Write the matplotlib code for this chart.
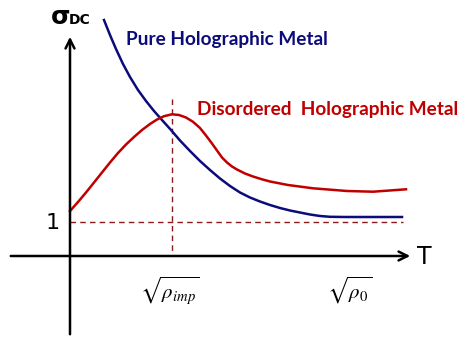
import matplotlib.pyplot as plt

# curve samples (pixel-like coordinates, y grows downwards)
pure_x = [104, 110, 116, 123, 130, 138, 146, 154, 162, 171, 180, 190, 200, 210, 220,
          230, 240, 250, 260, 270, 280, 290, 300, 310, 320, 330, 345, 402]
pure_y = [20, 35, 49, 64, 77, 90, 101, 111, 120, 130, 140.5, 151, 161, 170, 178.5,
          186, 192.5, 197.5, 201.5, 205, 208, 210.5, 212.5, 214.5, 216, 216.8, 217, 217]

dis_x = [70, 78, 86, 94, 102, 110, 118, 126, 134, 142, 150, 157, 164, 172, 179, 186, 193,
         200, 206, 212, 217, 222, 227, 232, 237, 245, 253, 262, 270, 288, 313, 347, 373, 406]
dis_y = [211, 202, 192.5, 182.5, 172.5, 162.5, 153, 144.5, 137, 130, 124, 119.5, 116.2, 114.3,
         115, 117.5, 121.8, 128, 135.5, 143.5, 150.5, 157.5, 162.5, 166.5, 169.5, 173.5, 176.5,
         179.3, 181.5, 185, 188.3, 191, 191.7, 189.3]

one_level = 221.5
peak_x = 172
x_ticks = [170, 350]
x_tick_labels = [r'$\sqrt{\rho_{imp}}$', r'$\sqrt{\rho_0}$']

navy = '#0B0B7A'
red = '#C00000'
dash_col = '#8B1A1A'

plt.rcParams['mathtext.fontset'] = 'stix'

fig = plt.figure(figsize=(4.62, 3.37), dpi=100)
ax = fig.add_axes([0, 0, 1, 1])
ax.set_xlim(0, 462)
ax.set_ylim(337, 0)
ax.axis('off')

# axes with open arrowheads
ax.annotate('', xy=(413, 256), xytext=(8, 256),
            arrowprops=dict(arrowstyle='->', lw=1.8, color='black', mutation_scale=16))
ax.annotate('', xy=(70, 34), xytext=(70, 337),
            arrowprops=dict(arrowstyle='->', lw=1.8, color='black', mutation_scale=16))

# dashed guides
ax.plot([70, 403], [one_level, one_level], lw=1, color=dash_col, dashes=(4, 3))
ax.plot([peak_x, peak_x], [99, 254], lw=1, color=dash_col, dashes=(4, 3))

ax.plot(pure_x, pure_y, color=navy, lw=1.8, solid_joinstyle='round')
ax.plot(dis_x, dis_y, color=red, lw=1.8, solid_joinstyle='round')

ax.text(126, 40, 'Pure Holographic Metal', color=navy, fontsize=13.7,
        fontweight='bold', family='Lato', va='center', ha='left')
ax.text(197, 110, 'Disordered  Holographic Metal', color=red, fontsize=13.7,
        fontweight='bold', family='Lato', va='center', ha='left')

ax.text(51, 24, 'σ', fontsize=18, fontweight='bold', va='baseline', ha='left')
ax.text(69, 24, 'DC', fontsize=10, fontweight='bold', va='baseline', ha='left')
ax.text(60, 223, '1', fontsize=16, va='center', ha='right')
ax.text(417, 257, 'T', fontsize=17, va='center', ha='left')

for xt, lab in zip(x_ticks, x_tick_labels):
    ax.text(xt, 290, lab, fontsize=15, va='center', ha='center')

fig.savefig('out.png', dpi=100)
